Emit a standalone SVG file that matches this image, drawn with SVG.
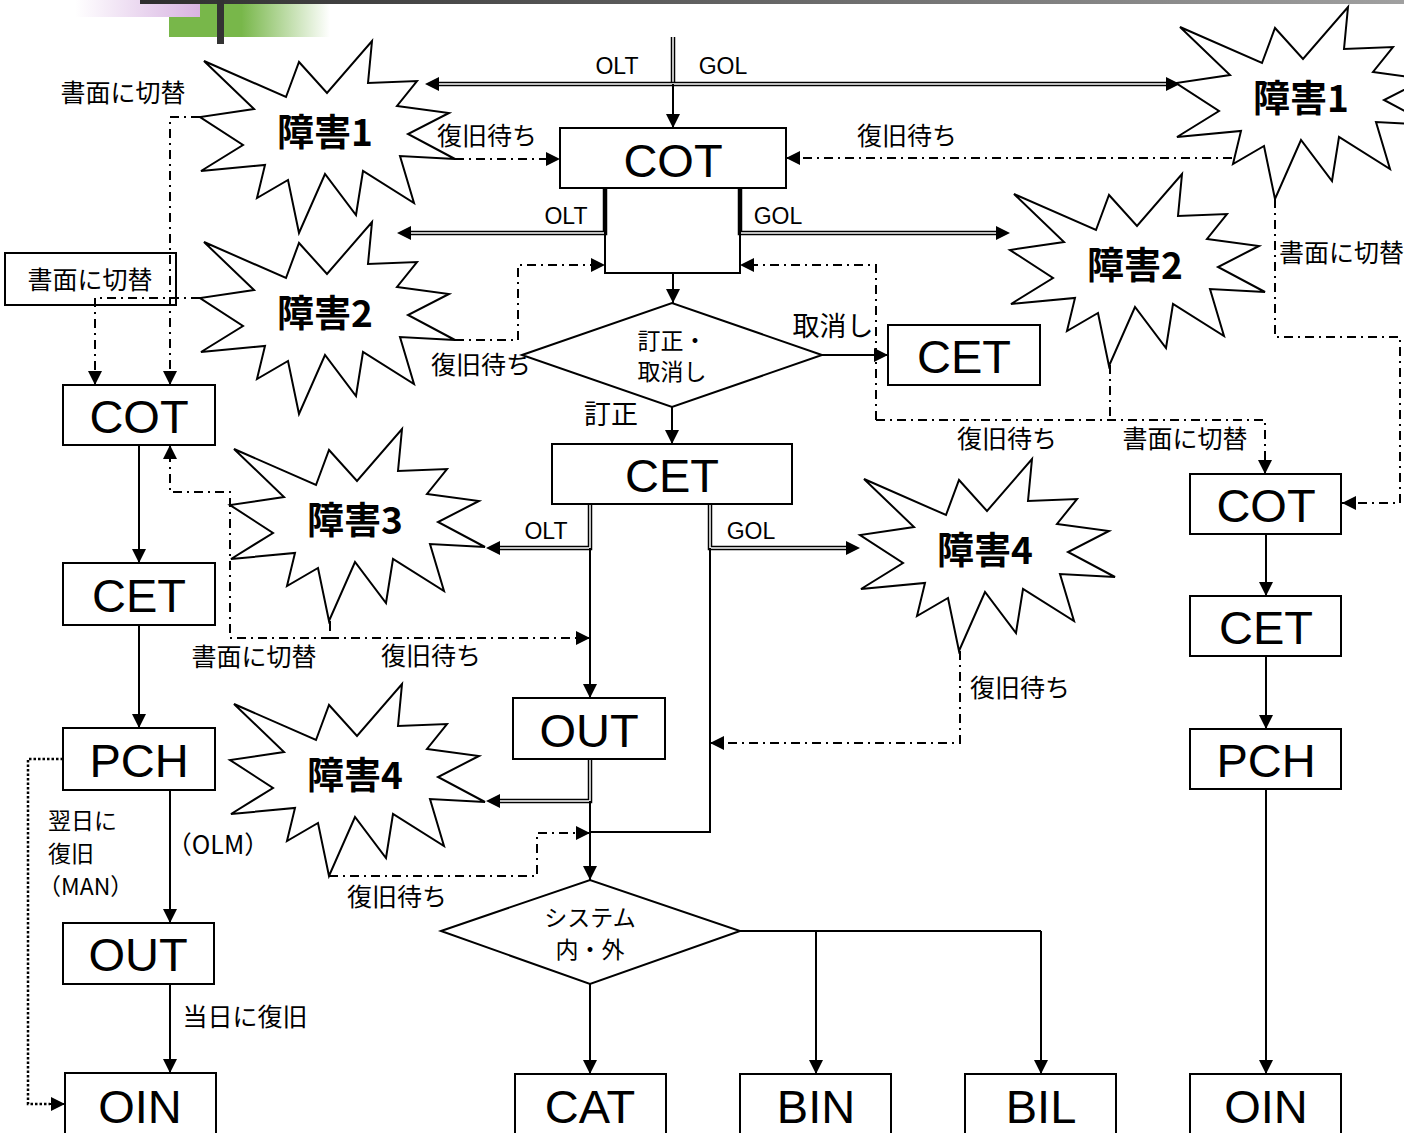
<svg xmlns="http://www.w3.org/2000/svg" xmlns:xlink="http://www.w3.org/1999/xlink" width="1404" height="1133" viewBox="0 0 1404 1133">
<style>
.box{fill:#fff;stroke:#000;stroke-width:2}
.burst{fill:#fff;stroke:#000;stroke-width:2;stroke-linejoin:miter}
.ln{fill:none;stroke:#000;stroke-width:2}
.dd{fill:none;stroke:#000;stroke-width:2;stroke-dasharray:9 5 2 5}
.dot{fill:none;stroke:#000;stroke-width:2.5;stroke-dasharray:2.5 2}
.dblo{fill:none;stroke:#000;stroke-width:4.5}
.dbli{fill:none;stroke:#fff;stroke-width:1.5}
.nt{font-family:"Liberation Sans",Arial,sans-serif;font-size:47px;text-anchor:middle;fill:#000}
.bt{font-family:"Noto Sans CJK JP","Noto Sans",sans-serif;font-size:37px;font-weight:bold;text-anchor:middle;fill:#000}
.jl{font-family:"Noto Sans CJK JP","Noto Sans",sans-serif;font-size:25px;text-anchor:middle;fill:#000}
.sl{font-family:"Noto Sans CJK JP","Noto Sans",sans-serif;font-size:23px;text-anchor:start;fill:#000}
.el{font-family:"Liberation Sans",Arial,sans-serif;font-size:23px;text-anchor:middle;fill:#000}
</style>
<defs>
<linearGradient id="gBar" x1="0" x2="1" y1="0" y2="0"><stop offset="0" stop-color="#2e2e2e"/><stop offset="1" stop-color="#a0a0a0"/></linearGradient>
<linearGradient id="gPur" x1="0" x2="1" y1="0" y2="0"><stop offset="0" stop-color="#fff"/><stop offset="1" stop-color="#d8b4e2"/></linearGradient>
<linearGradient id="gGrn" x1="0" x2="1" y1="0" y2="0"><stop offset="0" stop-color="#78b74a"/><stop offset="0.45" stop-color="#78b74a"/><stop offset="1" stop-color="#78b74a" stop-opacity="0"/></linearGradient>
<marker id="a" markerUnits="userSpaceOnUse" markerWidth="16" markerHeight="16" refX="14" refY="7" orient="auto"><path d="M0,0 L14,7 L0,14 z" fill="#000"/></marker>
<marker id="ab" markerUnits="userSpaceOnUse" markerWidth="16" markerHeight="16" refX="0" refY="7" orient="auto-start-reverse"><path d="M0,0 L14,7 L0,14 z" fill="#000"/></marker>
<polygon id="burst" class="burst" points="4,21 86,57 99,22 127,53 172,1 168,43 217,41 197,66 249,73 208,94 255,119 200,116 214,163 163,131 156,175 125,134 99,193 88,140 57,158 65,125 1,131 43,105 0,77 54,69"/>
</defs>
<rect width="1404" height="1133" fill="#fff"/>
<g id="header">
<rect x="169" y="0" width="161" height="37" fill="url(#gGrn)"/>
<rect x="75" y="0" width="125" height="17" fill="url(#gPur)"/>
<rect x="140" y="0" width="1264" height="4" fill="url(#gBar)"/>
<rect x="217" y="0" width="7" height="44" fill="#333"/>
</g>
<g id="connectors">
<path class="dblo" d="M673,37 V84"/><path class="dbli" d="M673,37 V84"/>
<path class="dblo" d="M439,84 H1166" marker-start="url(#ab)" marker-end="url(#ab)"/><path class="dbli" d="M439,84 H1166"/>
<path class="ln" d="M673,84 V128" marker-end="url(#a)"/>
<path class="dblo" d="M605,188 V233 H411" marker-end="url(#ab)"/><path class="dbli" d="M605,188 V233 H411"/>
<path class="dblo" d="M740,188 V233 H996" marker-end="url(#ab)"/><path class="dbli" d="M740,188 V233 H996"/>
<path class="ln" d="M673,273 V303" marker-end="url(#a)"/>
<path class="ln" d="M822,355 H888" marker-end="url(#a)"/>
<path class="ln" d="M672,407 V444" marker-end="url(#a)"/>
<path class="dblo" d="M590,504 V548 H500" marker-end="url(#ab)"/><path class="dbli" d="M590,504 V548 H500"/>
<path class="dblo" d="M710,504 V548 H846" marker-end="url(#ab)"/><path class="dbli" d="M710,504 V548 H846"/>
<path class="ln" d="M590,548 V698" marker-end="url(#a)"/>
<path class="ln" d="M710,548 V832 H590"/>
<path class="dblo" d="M590,760 V801 H500" marker-end="url(#ab)"/><path class="dbli" d="M590,760 V801 H500"/>
<path class="ln" d="M590,801 V880" marker-end="url(#a)"/>
<path class="ln" d="M590,984 V1074" marker-end="url(#a)"/>
<path class="ln" d="M740,931 H1041"/>
<path class="ln" d="M816,931 V1074" marker-end="url(#a)"/>
<path class="ln" d="M1041,931 V1074" marker-end="url(#a)"/>
<path class="ln" d="M139,445 V563" marker-end="url(#a)"/>
<path class="ln" d="M139,625 V728" marker-end="url(#a)"/>
<path class="ln" d="M170,790 V923" marker-end="url(#a)"/>
<path class="ln" d="M170,984 V1073" marker-end="url(#a)"/>
<path class="dot" d="M63,759 H28 V1104 H50"/>
<path class="ln" d="M50,1104 H65" marker-end="url(#a)"/>
<path class="ln" d="M1266,534 V596" marker-end="url(#a)"/>
<path class="ln" d="M1266,656 V729" marker-end="url(#a)"/>
<path class="ln" d="M1266,789 V1074" marker-end="url(#a)"/>
<path class="dd" d="M200,117 H170 V385" marker-end="url(#a)"/>
<path class="dd" d="M455,159 H560" marker-end="url(#a)"/>
<path class="dd" d="M1232,158 H786" marker-end="url(#a)"/>
<path class="dd" d="M1275,199 V337 H1400 V503 H1342" marker-end="url(#a)"/>
<path class="dd" d="M200,298 H95 V385" marker-end="url(#a)"/>
<path class="dd" d="M455,340 H518 V265 H605" marker-end="url(#a)"/>
<path class="dd" d="M1110,365 V420"/>
<path class="dd" d="M876,420 H1265 V474" marker-end="url(#a)"/>
<path class="dd" d="M876,420 V265 H740" marker-end="url(#a)"/>
<path class="ln" d="M330,621 V631"/>
<path class="dd" d="M330,638 H590" marker-end="url(#a)"/>
<path class="dd" d="M330,638 H230 V492 H170 V445" marker-end="url(#a)"/>
<path class="dd" d="M960,651 V743 H710" marker-end="url(#a)"/>
<path class="dd" d="M329,876 H537 V833 H590" marker-end="url(#a)"/>
</g>
<g id="labels">
<text class="jl" x="123" y="102">書面に切替</text>
<text class="el" x="617" y="74">OLT</text>
<text class="el" x="723" y="74">GOL</text>
<text class="jl" x="487" y="145">復旧待ち</text>
<text class="jl" x="907" y="145">復旧待ち</text>
<text class="el" x="566" y="224">OLT</text>
<text class="el" x="778" y="224">GOL</text>
<text class="jl" x="1279" y="262" style="text-anchor:start">書面に切替</text>
<text class="jl" x="833" y="336" style="font-size:27px">取消し</text>
<text class="jl" x="481" y="374">復旧待ち</text>
<text class="jl" x="611" y="424" style="font-size:27px">訂正</text>
<text class="jl" x="1007" y="448">復旧待ち</text>
<text class="jl" x="1185" y="448">書面に切替</text>
<text class="el" x="546" y="539">OLT</text>
<text class="el" x="751" y="539">GOL</text>
<text class="jl" x="254" y="666">書面に切替</text>
<text class="jl" x="431" y="665">復旧待ち</text>
<text class="jl" x="1020" y="697">復旧待ち</text>
<text class="sl" x="48" y="829">翌日に</text>
<text class="sl" x="48" y="862">復旧</text>
<text class="sl" x="38" y="895">（MAN）</text>
<text class="jl" x="218" y="854">（OLM）</text>
<text class="jl" x="245" y="1026">当日に復旧</text>
<text class="jl" x="397" y="906">復旧待ち</text>
</g>
<g id="n-burst1L"><use xlink:href="#burst" x="200" y="40"/><text class="bt" x="325" y="146">障害1</text></g>
<g id="n-burst2L"><use xlink:href="#burst" x="200" y="221"/><text class="bt" x="325" y="327">障害2</text></g>
<g id="n-burst3"><use xlink:href="#burst" x="230" y="428"/><text class="bt" x="355" y="534">障害3</text></g>
<g id="n-burst4L"><use xlink:href="#burst" x="230" y="683"/><text class="bt" x="355" y="789">障害4</text></g>
<g id="n-burst1R"><use xlink:href="#burst" x="1176" y="6"/><text class="bt" x="1301" y="112">障害1</text></g>
<g id="n-burst2R"><use xlink:href="#burst" x="1010" y="173"/><text class="bt" x="1135" y="279">障害2</text></g>
<g id="n-burst4R"><use xlink:href="#burst" x="860" y="458"/><text class="bt" x="985" y="564">障害4</text></g>
<g id="n-note"><rect class="box" x="5" y="253" width="171" height="52" style="fill:none"/><text class="jl" x="90" y="289">書面に切替</text></g>
<g id="n-cot-top"><rect class="box" x="560" y="128" width="226" height="60"/><text class="nt" x="673" y="177">COT</text></g>
<g id="n-sub"><rect class="box" x="605" y="188" width="135" height="85" style="fill:none"/></g>
<g id="n-dia1"><polygon class="box" points="522,355 672,303 822,355 672,407"/><text class="jl" x="672" y="349" style="font-size:23px">訂正・</text><text class="jl" x="672" y="380" style="font-size:23px">取消し</text></g>
<g id="n-cet-r"><rect class="box" x="888" y="325" width="152" height="60"/><text class="nt" x="964" y="373">CET</text></g>
<g id="n-cet-c"><rect class="box" x="552" y="444" width="240" height="60"/><text class="nt" x="672" y="492">CET</text></g>
<g id="n-out-c"><rect class="box" x="513" y="698" width="152" height="61"/><text class="nt" x="589" y="747">OUT</text></g>
<g id="n-dia2"><polygon class="box" points="441,931 590,880 740,931 590,984"/><text class="jl" x="590" y="926" style="font-size:23px">システム</text><text class="jl" x="590" y="958" style="font-size:23px">内・外</text></g>
<g id="n-cat"><rect class="box" x="515" y="1074" width="151" height="62"/><text class="nt" x="590" y="1123">CAT</text></g>
<g id="n-bin"><rect class="box" x="740" y="1074" width="151" height="62"/><text class="nt" x="816" y="1123">BIN</text></g>
<g id="n-bil"><rect class="box" x="965" y="1074" width="151" height="62"/><text class="nt" x="1041" y="1123">BIL</text></g>
<g id="n-cot-l"><rect class="box" x="63" y="385" width="152" height="60"/><text class="nt" x="139" y="433">COT</text></g>
<g id="n-cet-l"><rect class="box" x="63" y="563" width="152" height="62"/><text class="nt" x="139" y="612">CET</text></g>
<g id="n-pch-l"><rect class="box" x="63" y="728" width="152" height="62"/><text class="nt" x="139" y="777">PCH</text></g>
<g id="n-out-l"><rect class="box" x="63" y="923" width="151" height="61"/><text class="nt" x="138" y="971">OUT</text></g>
<g id="n-oin-l"><rect class="box" x="65" y="1073" width="151" height="63"/><text class="nt" x="140" y="1123">OIN</text></g>
<g id="n-cot-r"><rect class="box" x="1190" y="474" width="151" height="60"/><text class="nt" x="1266" y="522">COT</text></g>
<g id="n-cet-rc"><rect class="box" x="1190" y="596" width="151" height="60"/><text class="nt" x="1266" y="644">CET</text></g>
<g id="n-pch-r"><rect class="box" x="1190" y="729" width="151" height="60"/><text class="nt" x="1266" y="777">PCH</text></g>
<g id="n-oin-r"><rect class="box" x="1190" y="1074" width="151" height="62"/><text class="nt" x="1266" y="1123">OIN</text></g>
</svg>
